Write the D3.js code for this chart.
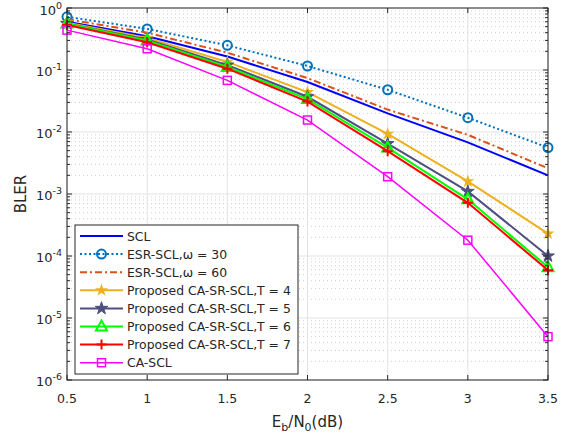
<!DOCTYPE html>
<html>
<head>
<meta charset="utf-8">
<script src="https://cdn.jsdelivr.net/npm/d3@7"></script>
<style>
  body { margin: 0; background: #fff; }
  text { font-family: "DejaVu Sans", sans-serif; fill: #262626; }
</style>
</head>
<body>
<svg id="chart" width="565" height="436"></svg>
<script>
// Eb/N0 points (dB)
var snr = [0.5, 1, 1.5, 2, 2.5, 3, 3.5];
var xTicks = [0.5, 1, 1.5, 2, 2.5, 3, 3.5];
var yExps = [0, -1, -2, -3, -4, -5, -6];

// BLER per scheme
var scl     = [0.60, 0.35, 0.165, 0.064, 0.020, 0.0068, 0.0020];
var esr30   = [0.72, 0.46, 0.25, 0.116, 0.048, 0.017, 0.0056];
var esr60   = [0.66, 0.40, 0.19, 0.074, 0.023, 0.0090, 0.0026];
var caT4    = [0.58, 0.33, 0.135, 0.044, 0.0093, 0.0016, 0.00023];
var caT5    = [0.56, 0.31, 0.12, 0.037, 0.0065, 0.0011, 0.000100];
var caT6    = [0.56, 0.30, 0.112, 0.034, 0.0056, 0.00082, 0.000066];
var caT7    = [0.53, 0.28, 0.105, 0.031, 0.0049, 0.00072, 0.000059];
var caScl   = [0.44, 0.22, 0.068, 0.0156, 0.0019, 0.00018, 0.0000050];

var series = [
  { name: "SCL", v: scl, color: "#0000ff", dash: null, marker: null, w: 2 },
  { name: "ESR-SCL,ω = 30", v: esr30, color: "#0072bd", dash: "2,2.5", marker: "circle", w: 2 },
  { name: "ESR-SCL,ω = 60", v: esr60, color: "#d95319", dash: "7,3,2,3", marker: null, w: 2 },
  { name: "Proposed CA-SR-SCL,T = 4", v: caT4, color: "#edb120", dash: null, marker: "hex", w: 2 },
  { name: "Proposed CA-SR-SCL,T = 5", v: caT5, color: "#4f4f7f", dash: null, marker: "star", w: 2 },
  { name: "Proposed CA-SR-SCL,T = 6", v: caT6, color: "#00ff00", dash: null, marker: "tri", w: 2 },
  { name: "Proposed CA-SR-SCL,T = 7", v: caT7, color: "#ff0000", dash: null, marker: "plus", w: 2 },
  { name: "CA-SCL", v: caScl, color: "#ff00ff", dash: null, marker: "square", w: 1.5 }
];

var svg = d3.select("#chart");
var mLeft = 67, mRight = 548, mTop = 8, mBottom = 380;

var x = d3.scaleLinear().domain([0.5, 3.5]).range([mLeft, mRight]);
var y = d3.scaleLog().domain([1e-6, 1]).range([mBottom, mTop]);

// grid
var grid = svg.append("g");
var minors = [];
yExps.slice(0, -1).forEach(function(e) {
  for (var k = 2; k <= 9; k++) minors.push(k * Math.pow(10, e - 1));
});
grid.selectAll(".minor").data(minors).enter().append("line")
  .attr("x1", mLeft).attr("x2", mRight)
  .attr("y1", function(d) { return y(d); }).attr("y2", function(d) { return y(d); })
  .attr("stroke", "#cfcfcf").attr("stroke-dasharray", "1,3");
grid.selectAll(".hmaj").data(yExps).enter().append("line")
  .attr("x1", mLeft).attr("x2", mRight)
  .attr("y1", function(d) { return y(Math.pow(10, d)); }).attr("y2", function(d) { return y(Math.pow(10, d)); })
  .attr("stroke", "#e3e3e3");
grid.selectAll(".vmaj").data(xTicks).enter().append("line")
  .attr("y1", mTop).attr("y2", mBottom)
  .attr("x1", function(d) { return x(d); }).attr("x2", function(d) { return x(d); })
  .attr("stroke", "#e3e3e3");

// lines
var line = d3.line().x(function(d, i) { return x(snr[i]); }).y(function(d) { return y(d); });

function marker(sel, type, color) {
  if (type === "circle") {
    sel.append("circle").attr("r", 4.5).attr("fill", "none").attr("stroke", color).attr("stroke-width", 2);
  } else if (type === "square") {
    sel.append("rect").attr("x", -4).attr("y", -4).attr("width", 8).attr("height", 8)
      .attr("fill", "none").attr("stroke", color).attr("stroke-width", 1.5);
  } else if (type === "tri") {
    sel.append("path").attr("d", "M0,-6L5.5,4L-5.5,4Z").attr("fill", "none").attr("stroke", color).attr("stroke-width", 2);
  } else if (type === "plus") {
    sel.append("path").attr("d", "M-5,0H5M0,-5V5").attr("stroke", color).attr("stroke-width", 2);
  } else if (type === "star") {
    sel.append("path").attr("d", d3.symbol(d3.symbolStar, 50)()).attr("fill", color).attr("stroke", color);
  } else if (type === "hex") {
    sel.append("path").attr("d", d3.symbol(d3.symbolStar, 22)()).attr("fill", color).attr("stroke", color).attr("stroke-width", 1.5);
  }
}

series.forEach(function(s) {
  svg.append("path").datum(s.v).attr("d", line)
    .attr("fill", "none").attr("stroke", s.color).attr("stroke-width", s.w)
    .attr("stroke-dasharray", s.dash);
  if (s.marker) {
    svg.append("g").selectAll("g").data(s.v).enter().append("g")
      .attr("transform", function(d, i) { return "translate(" + x(snr[i]) + "," + y(d) + ")"; })
      .each(function() { marker(d3.select(this), s.marker, s.color); });
  }
});

// axes frame and ticks
var axisColor = "#262626";
svg.append("rect").attr("x", mLeft).attr("y", mTop).attr("width", mRight - mLeft).attr("height", mBottom - mTop)
  .attr("fill", "none").attr("stroke", axisColor).attr("stroke-width", 1);
var ticks = svg.append("g").attr("stroke", axisColor);
xTicks.forEach(function(t) {
  ticks.append("line").attr("x1", x(t)).attr("x2", x(t)).attr("y1", mBottom).attr("y2", mBottom - 5);
  ticks.append("line").attr("x1", x(t)).attr("x2", x(t)).attr("y1", mTop).attr("y2", mTop + 5);
});
yExps.forEach(function(e) {
  var yy = y(Math.pow(10, e));
  ticks.append("line").attr("x1", mLeft).attr("x2", mLeft + 5).attr("y1", yy).attr("y2", yy);
  ticks.append("line").attr("x1", mRight).attr("x2", mRight - 5).attr("y1", yy).attr("y2", yy);
});
minors.forEach(function(m) {
  var yy = y(m);
  ticks.append("line").attr("x1", mLeft).attr("x2", mLeft + 3).attr("y1", yy).attr("y2", yy);
  ticks.append("line").attr("x1", mRight).attr("x2", mRight - 3).attr("y1", yy).attr("y2", yy);
});

// tick labels
svg.append("g").selectAll("text").data(xTicks).enter().append("text")
  .attr("x", function(d) { return x(d); }).attr("y", 403)
  .attr("text-anchor", "middle").attr("font-size", 12.5)
  .text(function(d) { return d; });

var yl = svg.append("g").selectAll("text").data(yExps).enter().append("text")
  .attr("x", 62).attr("y", function(d) { return y(Math.pow(10, d)) + (d === 0 ? 7 : 6); })
  .attr("text-anchor", "end").attr("font-size", 13);
yl.append("tspan").text("10");
yl.append("tspan").attr("dy", -6).attr("font-size", 9.5).text(function(d) { return d; });

// axis titles
svg.append("text").attr("transform", "translate(26," + ((mTop + mBottom) / 2) + ") rotate(-90)")
  .attr("text-anchor", "middle").attr("font-size", 15).text("BLER");
var xt = svg.append("text").attr("x", (mLeft + mRight) / 2).attr("y", 427)
  .attr("text-anchor", "middle").attr("font-size", 15);
xt.append("tspan").text("E");
xt.append("tspan").attr("dy", 4).attr("font-size", 11).text("b");
xt.append("tspan").attr("dy", -4).text("/N");
xt.append("tspan").attr("dy", 4).attr("font-size", 11).text("0");
xt.append("tspan").attr("dy", -4).text("(dB)");

// legend
var lg = svg.append("g");
lg.append("rect").attr("x", 75).attr("y", 225).attr("width", 223).attr("height", 149)
  .attr("fill", "#fff").attr("stroke", axisColor);
var rows = lg.selectAll("g").data(series).enter().append("g")
  .attr("transform", function(d, i) { return "translate(0," + (236 + i * 18.1) + ")"; });
rows.append("line").attr("x1", 80).attr("x2", 123)
  .attr("stroke", function(d) { return d.color; })
  .attr("stroke-width", function(d) { return d.w; })
  .attr("stroke-dasharray", function(d) { return d.dash; });
rows.each(function(d) {
  if (d.marker) marker(d3.select(this).append("g").attr("transform", "translate(101.5,0)"), d.marker, d.color);
});
rows.append("text").attr("x", 127).attr("y", 4.5).attr("font-size", 12.4).text(function(d) { return d.name; });
</script>
</body>
</html>
